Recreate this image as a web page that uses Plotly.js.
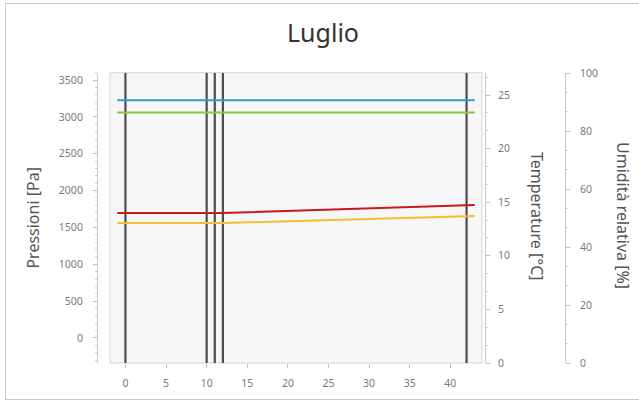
<!DOCTYPE html>
<html>
<head>
<meta charset="utf-8">
<script src="https://cdn.plot.ly/plotly-3.0.1.min.js"></script>
<style>
  html, body { margin: 0; padding: 0; background: #ffffff; }
  #frame { position: absolute; left: 5px; top: 3px; width: 640px; height: 397px; border: 1px solid #c8c8c8; box-sizing: border-box; }
  #chart { position: absolute; left: 0; top: 0; width: 639px; height: 403px; }
</style>
</head>
<body>
<div id="frame"></div>
<div id="chart"></div>
<script>
// ---- data ----
const chartTitle = 'Luglio';
const layerBoundaries = [0, 10, 11, 12, 42];           // x positions of the layer interfaces
const profileX = [-1, 0, 10, 11, 12, 42, 43];          // thickness coordinate
const temperature = [24.5, 24.5, 24.5, 24.5, 24.5, 24.5, 24.5];          // °C (blue)
const saturationPressure = [3060, 3060, 3060, 3060, 3060, 3060, 3060];   // Pa (green)
const partialPressureA = [1696, 1696, 1696, 1696, 1696, 1802, 1806];     // Pa (red)
const partialPressureB = [1560, 1560, 1560, 1560, 1560, 1652, 1655];     // Pa (yellow)
const pressureAxisTitle = 'Pressioni [Pa]';
const temperatureAxisTitle = 'Temperature [°C]';
const humidityAxisTitle = 'Umidità relativa [%]';

const W = 639, H = 403;
const px = v => v / W;
const py = v => 1 - v / H;
const plotLeft = 110, plotRight = 482, plotTop = 72.7, plotBottom = 363;
const pressureRange = [-340, 3600];

const traces = [];
// vertical layer boundary lines
layerBoundaries.forEach(b => {
  traces.push({
    x: [b, b], y: pressureRange, yaxis: 'y', mode: 'lines',
    line: { color: '#4d4d4d', width: 2.2 }, hoverinfo: 'skip', showlegend: false
  });
});
traces.push({ x: profileX, y: saturationPressure, yaxis: 'y', mode: 'lines',
  line: { color: 'rgb(140,196,70)', width: 2 }, name: 'Pressione di saturazione', showlegend: false });
traces.push({ x: profileX, y: temperature, yaxis: 'y2', mode: 'lines',
  line: { color: 'rgb(45,155,205)', width: 2 }, name: 'Temperatura', showlegend: false });
traces.push({ x: profileX, y: partialPressureB, yaxis: 'y', mode: 'lines',
  line: { color: 'rgb(242,190,50)', width: 2 }, name: 'Pressione parziale', showlegend: false });
traces.push({ x: profileX, y: partialPressureA, yaxis: 'y', mode: 'lines',
  line: { color: 'rgb(200,25,30)', width: 2 }, name: 'Pressione parziale', showlegend: false });
traces.push({ x: [null], y: [null], yaxis: 'y3', mode: 'lines', hoverinfo: 'skip', showlegend: false });

const tickFont = { family: 'Noto Sans, Open Sans, sans-serif', size: 10.5, color: '#7a7a7a' };
const titleFont = { family: 'Noto Sans, Open Sans, sans-serif', size: 16, color: '#555555' };
const domainY = [py(plotBottom), py(plotTop)];

const layout = {
  width: W, height: H,
  margin: { l: 0, r: 0, t: 0, b: 0, pad: 0 },
  paper_bgcolor: 'rgba(0,0,0,0)',
  plot_bgcolor: 'rgba(0,0,0,0)',
  showlegend: false,
  title: { text: chartTitle, x: px(323), xanchor: 'center', y: py(33), yanchor: 'middle',
    font: { family: 'Noto Sans, Open Sans, sans-serif', size: 25, color: '#333333' } },
  xaxis: {
    domain: [px(plotLeft), px(plotRight)], range: [-1.9, 43.9],
    tick0: 0, dtick: 5, ticks: 'outside', ticklen: 4, tickcolor: '#c0c0c0',
    ticklabelstandoff: 6, tickfont: tickFont,
    showgrid: false, zeroline: false, showline: false, anchor: 'y'
  },
  yaxis: {
    domain: domainY, range: pressureRange, anchor: 'free', position: px(97), side: 'left',
    tick0: 0, dtick: 500, ticks: 'outside', ticklen: 4, tickcolor: '#c0c0c0',
    minor: { dtick: 100, ticks: 'outside', ticklen: 2, tickcolor: '#d0d0d0', showgrid: false },
    ticklabelstandoff: 8, tickfont: tickFont,
    showline: true, linecolor: '#c8c8c8', linewidth: 1,
    showgrid: false, zeroline: false,
    title: { text: pressureAxisTitle, font: titleFont, standoff: 14 }
  },
  yaxis2: {
    domain: domainY, range: [0, 27.08], overlaying: 'y', anchor: 'free', position: px(485), side: 'right',
    tick0: 0, dtick: 5, ticks: 'outside', ticklen: 4, tickcolor: '#c0c0c0',
    minor: { tick0: 0, dtick: 5 / 3, ticks: 'outside', ticklen: 2, tickcolor: '#d0d0d0', showgrid: false },
    ticklabelstandoff: 6, tickfont: tickFont,
    showline: true, linecolor: '#c8c8c8', linewidth: 1,
    showgrid: false, zeroline: false
  },
  yaxis3: {
    domain: domainY, range: [0, 100.2], overlaying: 'y', anchor: 'free', position: px(565), side: 'right',
    tick0: 0, dtick: 20, ticks: 'outside', ticklen: 4, tickcolor: '#c0c0c0',
    minor: { tick0: 0, dtick: 20 / 3, ticks: 'outside', ticklen: 2, tickcolor: '#d0d0d0', showgrid: false },
    ticklabelstandoff: 8, tickfont: tickFont,
    showline: true, linecolor: '#c8c8c8', linewidth: 1,
    showgrid: false, zeroline: false
  },
  shapes: [
    { type: 'rect', xref: 'paper', yref: 'paper', layer: 'below',
      x0: px(plotLeft), x1: px(plotRight), y0: py(plotBottom), y1: py(plotTop),
      line: { color: '#d4d4d4', width: 1 }, fillcolor: '#f7f7f7' }
  ],
  annotations: [
    { text: temperatureAxisTitle, xref: 'paper', yref: 'paper', x: px(537), y: py(216),
      xanchor: 'center', yanchor: 'middle', textangle: 90, showarrow: false, font: titleFont },
    { text: humidityAxisTitle, xref: 'paper', yref: 'paper', x: px(623), y: py(215),
      xanchor: 'center', yanchor: 'middle', textangle: 90, showarrow: false, font: titleFont }
  ]
};

Plotly.newPlot('chart', traces, layout, { staticPlot: true, displayModeBar: false });
</script>
</body>
</html>
